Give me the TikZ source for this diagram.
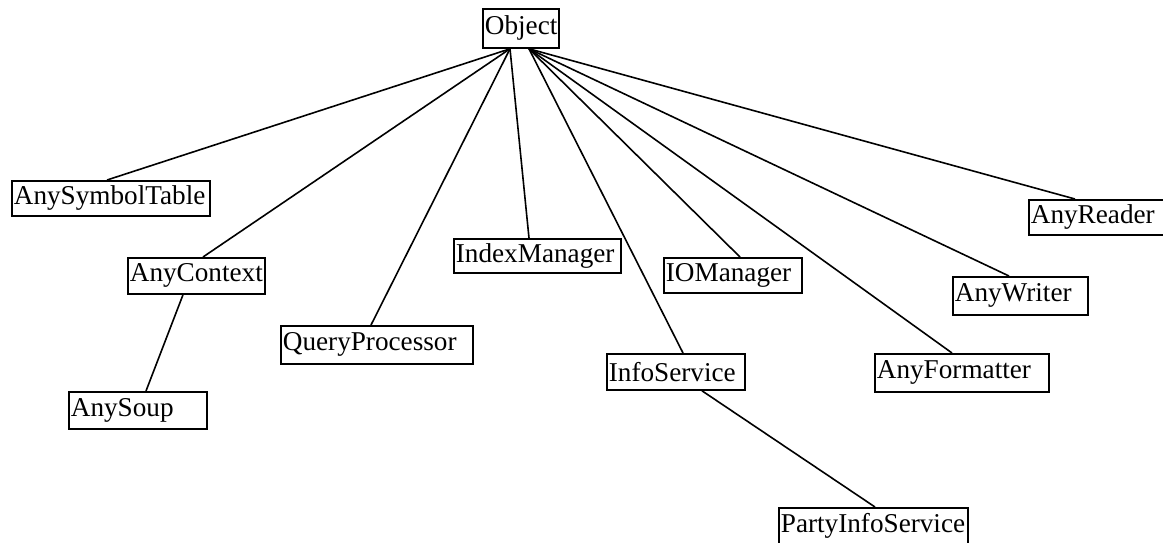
\documentclass[tikz,border=0pt]{standalone}
\usepackage{fontspec}
\setmainfont{Liberation Serif}
\begin{document}
\begin{tikzpicture}[x=1pt,y=-1pt,
  cls/.style={draw=black, line width=1.8pt, anchor=north west, inner xsep=2pt, inner ysep=0pt,
    align=left, font=\fontsize{27.2}{30}\selectfont},
  link/.style={line width=1.6pt}]
\useasboundingbox (0,0) rectangle (1163,542);
\node[cls, text width=72pt, minimum height=39pt] (obj) at (482,8) {Object};
\node[cls, text width=194pt, minimum height=35pt] (sym) at (11,180) {AnySymbolTable};
\node[cls, text width=133pt, minimum height=36pt] (ctx) at (127,257) {AnyContext};
\node[cls, text width=134pt, minimum height=37pt] (soup) at (68,391) {AnySoup};
\node[cls, text width=188pt, minimum height=38pt] (qp) at (280,325) {QueryProcessor};
\node[cls, text width=163pt, minimum height=34pt] (idx) at (453,238) {IndexManager};
\node[cls, text width=134pt, minimum height=35pt] (io) at (663,257) {IOManager};
\node[cls, text width=134pt, minimum height=36pt] (info) at (606,353) {InfoService};
\node[cls, text width=185pt, minimum height=36pt] (party) at (778,507) {PartyInfoService};
\node[cls, text width=170pt, minimum height=38pt] (fmt) at (874,353) {AnyFormatter};
\node[cls, text width=131pt, minimum height=38pt] (wri) at (952,276) {AnyWriter};
\node[cls, text width=131pt, minimum height=35pt] (rdr) at (1028,199) {AnyReader};
\coordinate (oL) at ([xshift=28pt]obj.south west);
\coordinate (oR) at ([xshift=47pt]obj.south west);
\draw[link] (oL) -- ([xshift=96pt]sym.north west);
\draw[link] (oL) -- ([xshift=76pt]ctx.north west);
\draw[link] (oL) -- ([xshift=91pt]qp.north west);
\draw[link] (oL) -- ([xshift=76pt]idx.north west);
\draw[link] (oR) -- ([xshift=77pt]info.north west);
\draw[link] (oR) -- ([xshift=77pt]io.north west);
\draw[link] (oR) -- ([xshift=78pt]fmt.north west);
\draw[link] (oR) -- ([xshift=57pt]wri.north west);
\draw[link] (oR) -- ([xshift=47pt]rdr.north west);
\draw[link] ([xshift=56pt]ctx.south west) -- ([xshift=78pt]soup.north west);
\draw[link] ([xshift=96pt]info.south west) -- ([xshift=97pt]party.north west);
\end{tikzpicture}
\end{document}
